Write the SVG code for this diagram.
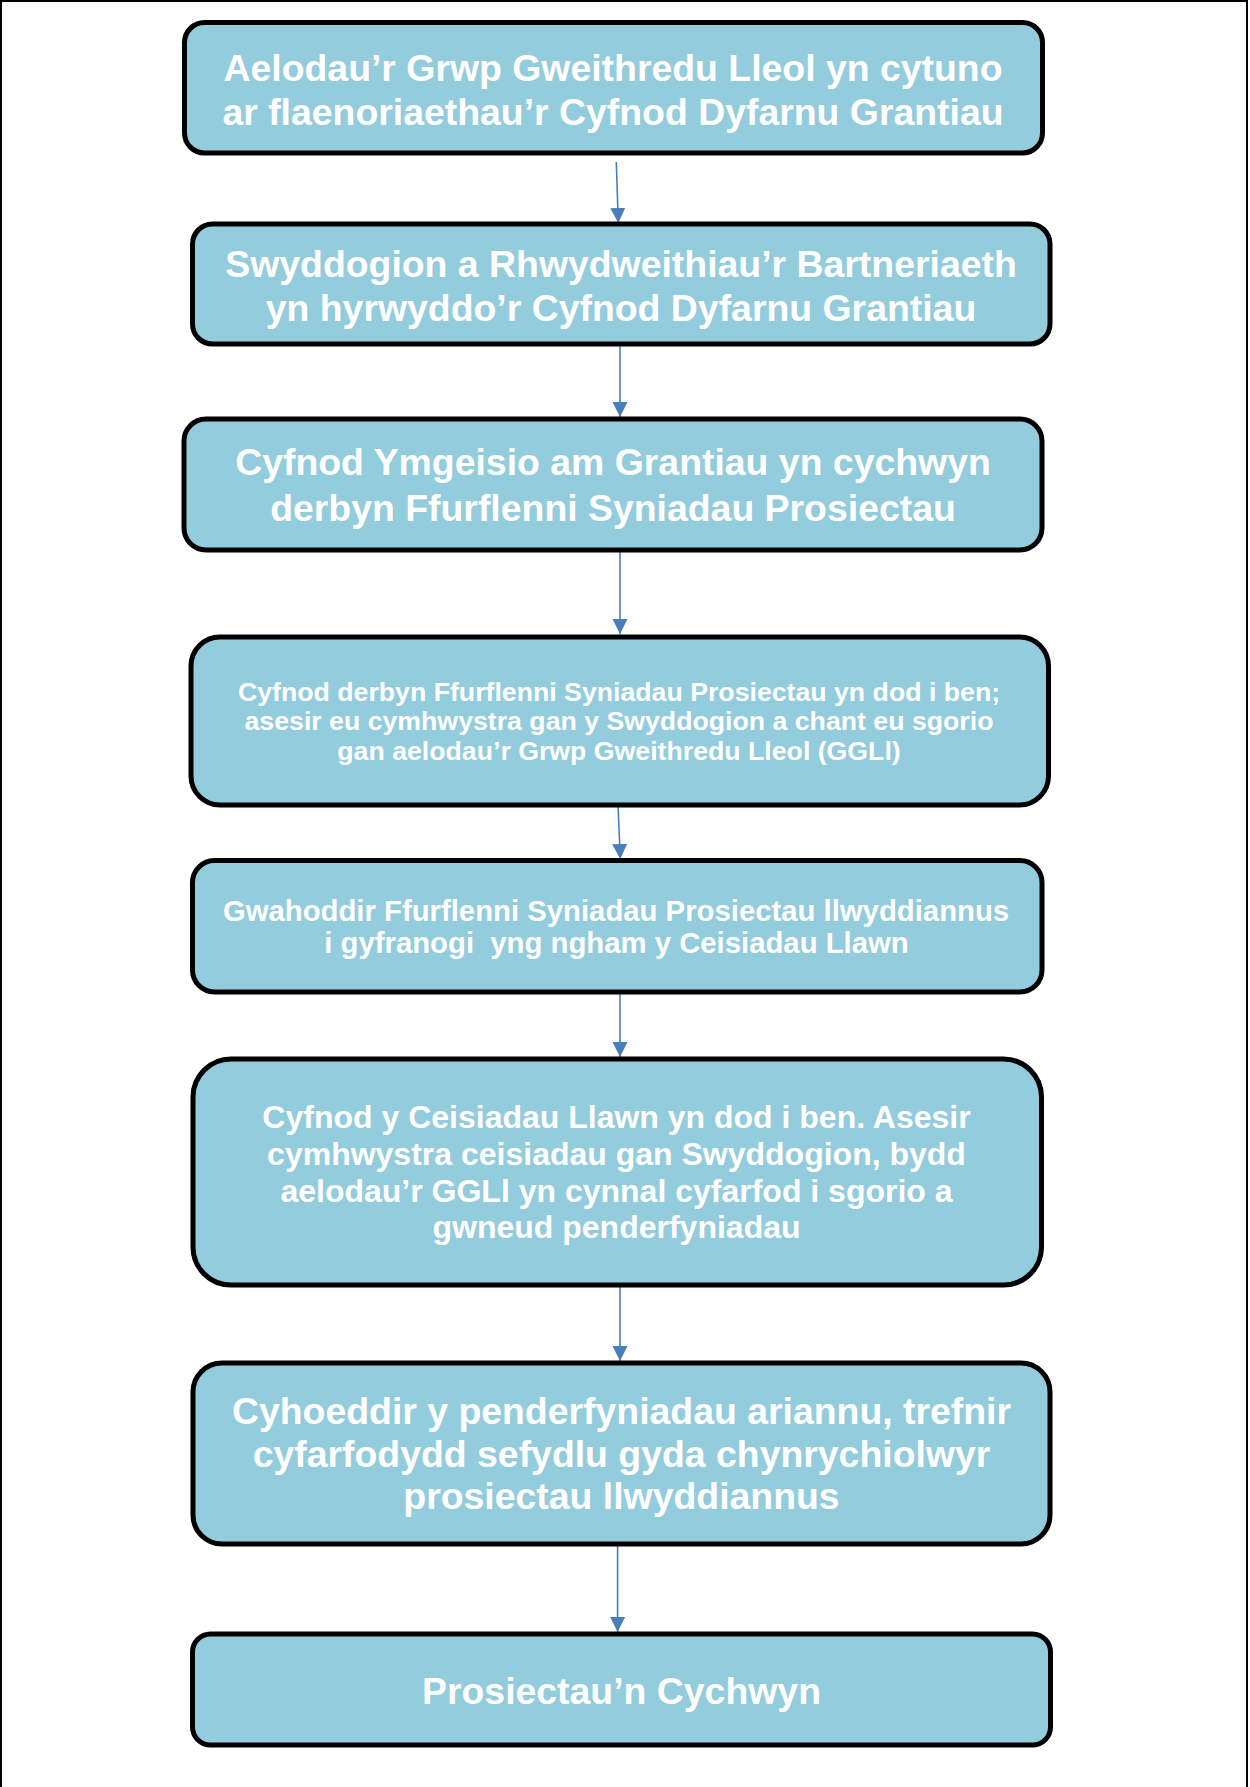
<svg xmlns="http://www.w3.org/2000/svg" width="1250" height="1787" viewBox="0 0 1250 1787">
<style>
.box{fill:#93CCDD;stroke:#000;stroke-width:5}
.t{font-family:"Liberation Sans",Arial,sans-serif;font-weight:bold;fill:#fff;text-anchor:middle}
.f37{font-size:37.4px}
.f31{font-size:32px}
.f29{font-size:29.3px}
.f26{font-size:26.7px}
.c{fill:none;stroke:#4A7EBB;stroke-width:1.6}
</style>
<defs>
<marker id="ah" markerUnits="userSpaceOnUse" markerWidth="16" markerHeight="16" viewBox="0 0 16 16" refX="15" refY="7.5" orient="auto">
<path d="M0,0 L15,7.5 L0,15 Z" fill="#4A7EBB"/>
</marker>
</defs>
<rect width="1250" height="1787" fill="#fff"/>
<path d="M1,1787 V1 H1247 V1787" fill="none" stroke="#000" stroke-width="2"/>
<g id="connectors">
<path class="c" d="M616.3,162 L618.3,223" marker-end="url(#ah)"/>
<path class="c" d="M620,344 L620,417" marker-end="url(#ah)"/>
<path class="c" d="M620,550 L620,634" marker-end="url(#ah)"/>
<path class="c" d="M618,805 L620.3,859" marker-end="url(#ah)"/>
<path class="c" d="M620,992 L620,1057" marker-end="url(#ah)"/>
<path class="c" d="M620,1285 L620,1361" marker-end="url(#ah)"/>
<path class="c" d="M617.6,1544 L617.6,1632" marker-end="url(#ah)"/>
</g>
<g id="n1">
<rect class="box" x="184.5" y="22.5" width="858" height="130.5" rx="20"/>
<text class="t f37" x="613" y="80.5">Aelodau’r Grwp Gweithredu Lleol yn cytuno</text>
<text class="t f37" x="613" y="124.5">ar flaenoriaethau’r Cyfnod Dyfarnu Grantiau</text>
</g>
<g id="n2">
<rect class="box" x="192.5" y="224" width="857.5" height="120" rx="20"/>
<text class="t f37" x="621" y="277">Swyddogion a Rhwydweithiau’r Bartneriaeth</text>
<text class="t f37" x="621" y="321">yn hyrwyddo’r Cyfnod Dyfarnu Grantiau</text>
</g>
<g id="n3">
<rect class="box" x="184" y="419" width="858" height="131" rx="22"/>
<text class="t f37" x="613" y="475">Cyfnod Ymgeisio am Grantiau yn cychwyn</text>
<text class="t f37" x="613" y="521">derbyn Ffurflenni Syniadau Prosiectau</text>
</g>
<g id="n4">
<rect class="box" x="191" y="637" width="857.5" height="168" rx="29"/>
<text class="t f26" x="619" y="700.5">Cyfnod derbyn Ffurflenni Syniadau Prosiectau yn dod i ben;</text>
<text class="t f26" x="619" y="730">asesir eu cymhwystra gan y Swyddogion a chant eu sgorio</text>
<text class="t f26" x="619" y="759.5">gan aelodau’r Grwp Gweithredu Lleol (GGLl)</text>
</g>
<g id="n5">
<rect class="box" x="192.5" y="860.5" width="849.5" height="131.5" rx="22"/>
<text class="t f29" x="616" y="921">Gwahoddir Ffurflenni Syniadau Prosiectau llwyddiannus</text>
<text class="t f29" x="616.5" y="953" xml:space="preserve">i gyfranogi  yng ngham y Ceisiadau Llawn</text>
</g>
<g id="n6">
<rect class="box" x="193" y="1059" width="848.5" height="226" rx="38"/>
<text class="t f31" x="616.5" y="1128">Cyfnod y Ceisiadau Llawn yn dod i ben. Asesir</text>
<text class="t f31" x="616.5" y="1165">cymhwystra ceisiadau gan Swyddogion, bydd</text>
<text class="t f31" x="616.5" y="1201.5">aelodau’r GGLl yn cynnal cyfarfod i sgorio a</text>
<text class="t f31" x="616.5" y="1238">gwneud penderfyniadau</text>
</g>
<g id="n7">
<rect class="box" x="193" y="1363" width="857" height="181" rx="29"/>
<text class="t f37" x="621.5" y="1424">Cyhoeddir y penderfyniadau ariannu, trefnir</text>
<text class="t f37" x="621.5" y="1467">cyfarfodydd sefydlu gyda chynrychiolwyr</text>
<text class="t f37" x="621.5" y="1509">prosiectau llwyddiannus</text>
</g>
<g id="n8">
<rect class="box" x="192.5" y="1634" width="858" height="111" rx="18"/>
<text class="t f37" x="621.5" y="1704">Prosiectau’n Cychwyn</text>
</g>
</svg>
